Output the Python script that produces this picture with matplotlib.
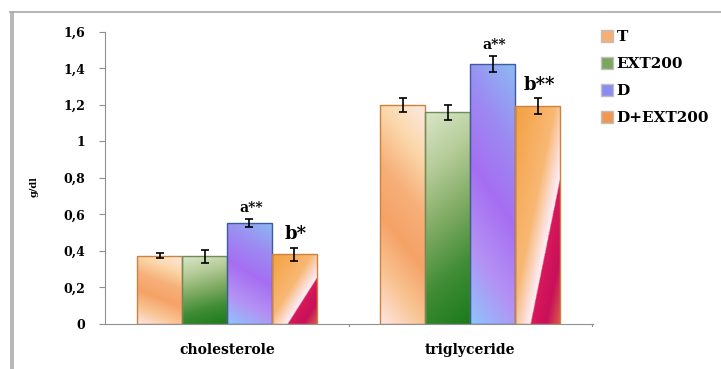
import numpy as np
import matplotlib
matplotlib.use("Agg")
import matplotlib.pyplot as plt
from matplotlib.colors import LinearSegmentedColormap
from matplotlib.patches import Patch, Rectangle
from matplotlib.lines import Line2D

# data
categories = ["cholesterole", "triglyceride"]
groups = ["T", "EXT200", "D", "D+EXT200"]
means = {
    "T": [0.375, 1.20],
    "EXT200": [0.37, 1.16],
    "D": [0.555, 1.425],
    "D+EXT200": [0.383, 1.195],
}
errors = {
    "T": [0.013, 0.037],
    "EXT200": [0.038, 0.040],
    "D": [0.021, 0.043],
    "D+EXT200": [0.036, 0.044],
}
marks = {
    ("D", 0): ("a**", 10),
    ("D+EXT200", 0): ("b*", 13),
    ("D", 1): ("a**", 10),
    ("D+EXT200", 1): ("b**", 13),
}
ytick_vals = [0, 0.2, 0.4, 0.6, 0.8, 1.0, 1.2, 1.4, 1.6]
ytick_labels = ["0", "0,2", "0,4", "0,6", "0,8", "1", "1,2", "1,4", "1,6"]

# colour maps for the gradient fills
cmaps = {
    "T": LinearSegmentedColormap.from_list(
        "t", ["#fde6e2", "#f9c494", "#f5a266", "#f7b07a", "#fbd8aa", "#fde9e4"]),
    "EXT200": LinearSegmentedColormap.from_list(
        "e", ["#1c7a1c", "#3f8c35", "#7eaa62", "#b5cc98", "#d8e6c8"]),
    "D": LinearSegmentedColormap.from_list(
        "d", ["#8ec4fc", "#b490f4", "#a66ef2", "#9c8cf2", "#8cbaf4"]),
    "D+EXT200": LinearSegmentedColormap.from_list(
        "de", [(0.0, "#f4a040"), (0.45, "#f8b874"), (0.62, "#fde2e2"),
               (0.67, "#fdf0f2"), (0.68, "#d8185a"), (0.85, "#c8105a"),
               (1.0, "#d8584a")]),
}
edges = {"T": "#c98240", "EXT200": "#6d8c58", "D": "#3c5c9c", "D+EXT200": "#c98240"}
legend_cols = {"T": "#f6ae72", "EXT200": "#7aa660", "D": "#8c8cf0", "D+EXT200": "#f29654"}

plt.rcParams["font.family"] = ["DejaVu Serif"]
plt.rcParams["font.weight"] = "bold"

fig = plt.figure(figsize=(7.21, 3.69), dpi=100)
ax = fig.add_axes([0.1456, 0.122, 0.677, 0.7913])

width = 0.185
x = np.arange(len(categories))
nu, nv = 60, 200
uu, vv = np.meshgrid(np.linspace(0, 1, nu), np.linspace(0, 1, nv))


def field(name):
    if name == "T":
        return 0.8 * vv + 0.2 * uu
    if name == "EXT200":
        return np.clip(0.85 * vv + 0.15 * (1 - uu), 0, 1)
    if name == "D":
        return 0.8 * vv + 0.2 * uu
    d = (uu - 0.35) - vv
    return np.clip((d + 1.35) / 2.0, 0, 1)


for i, g in enumerate(groups):
    xs = x + (i - 1.5) * width
    bars = ax.bar(xs, means[g], width, facecolor="none", edgecolor=edges[g],
                  linewidth=1.0, zorder=3)
    for j, b in enumerate(bars):
        x0, h = b.get_x(), b.get_height()
        im = ax.imshow(field(g), cmap=cmaps[g], origin="lower", aspect="auto",
                       extent=[x0, x0 + width, 0, h], zorder=2, vmin=0, vmax=1)
        im.set_clip_path(b)
    ax.errorbar(xs, means[g], yerr=errors[g], fmt="none", ecolor="black",
                elinewidth=1.2, capsize=3, capthick=1.2, zorder=4)
    for j in range(len(categories)):
        if (g, j) in marks:
            txt, fs = marks[(g, j)]
            ax.annotate(txt, (xs[j], means[g][j] + errors[g][j]),
                        xytext=(1, 3), textcoords="offset points",
                        ha="center", va="bottom", fontsize=fs,
                        fontweight="bold", zorder=5)

ax.set_xlim(-0.502, 1.506)
ax.set_ylim(0, 1.6)
ax.set_yticks(ytick_vals)
ax.set_yticklabels(ytick_labels, fontsize=9, fontweight="bold")
ax.set_xticks(x)
ax.set_xticklabels(categories, fontsize=10, fontweight="bold")
ax.tick_params(axis="x", length=0, pad=14)
ax.tick_params(axis="y", length=4, width=0.8, color="#909090", pad=10)
for t in [0.5, 1.5]:
    ax.plot([t, t], [0, -0.012], color="#909090", lw=0.8, clip_on=False)
for s in ["top", "right"]:
    ax.spines[s].set_visible(False)
for s in ["left", "bottom"]:
    ax.spines[s].set_color("#909090")
    ax.spines[s].set_linewidth(0.8)
ax.set_ylabel("g/dl", fontsize=7, fontweight="bold")
ax.yaxis.set_label_coords(-0.135, 0.47)

handles = [Patch(facecolor=legend_cols[g], edgecolor="#c0c0c0", label=g) for g in groups]
fig.legend(handles=handles, loc="upper left", bbox_to_anchor=(0.815, 0.955),
           frameon=False, handlelength=0.75, handleheight=0.75,
           handletextpad=0.25, labelspacing=0.85, prop={"weight": "bold", "size": 11})

# outer frame of the original picture
fig.add_artist(Line2D([10 / 721, 1], [1 - 12 / 369, 1 - 12 / 369],
                      transform=fig.transFigure, color="#a8a8a8", lw=1.2))
fig.add_artist(Rectangle((10 / 721, 0), 4 / 721, 1 - 12 / 369,
                         transform=fig.transFigure, color="#b8b8b8", lw=0))

fig.savefig("out.png", dpi=100)
